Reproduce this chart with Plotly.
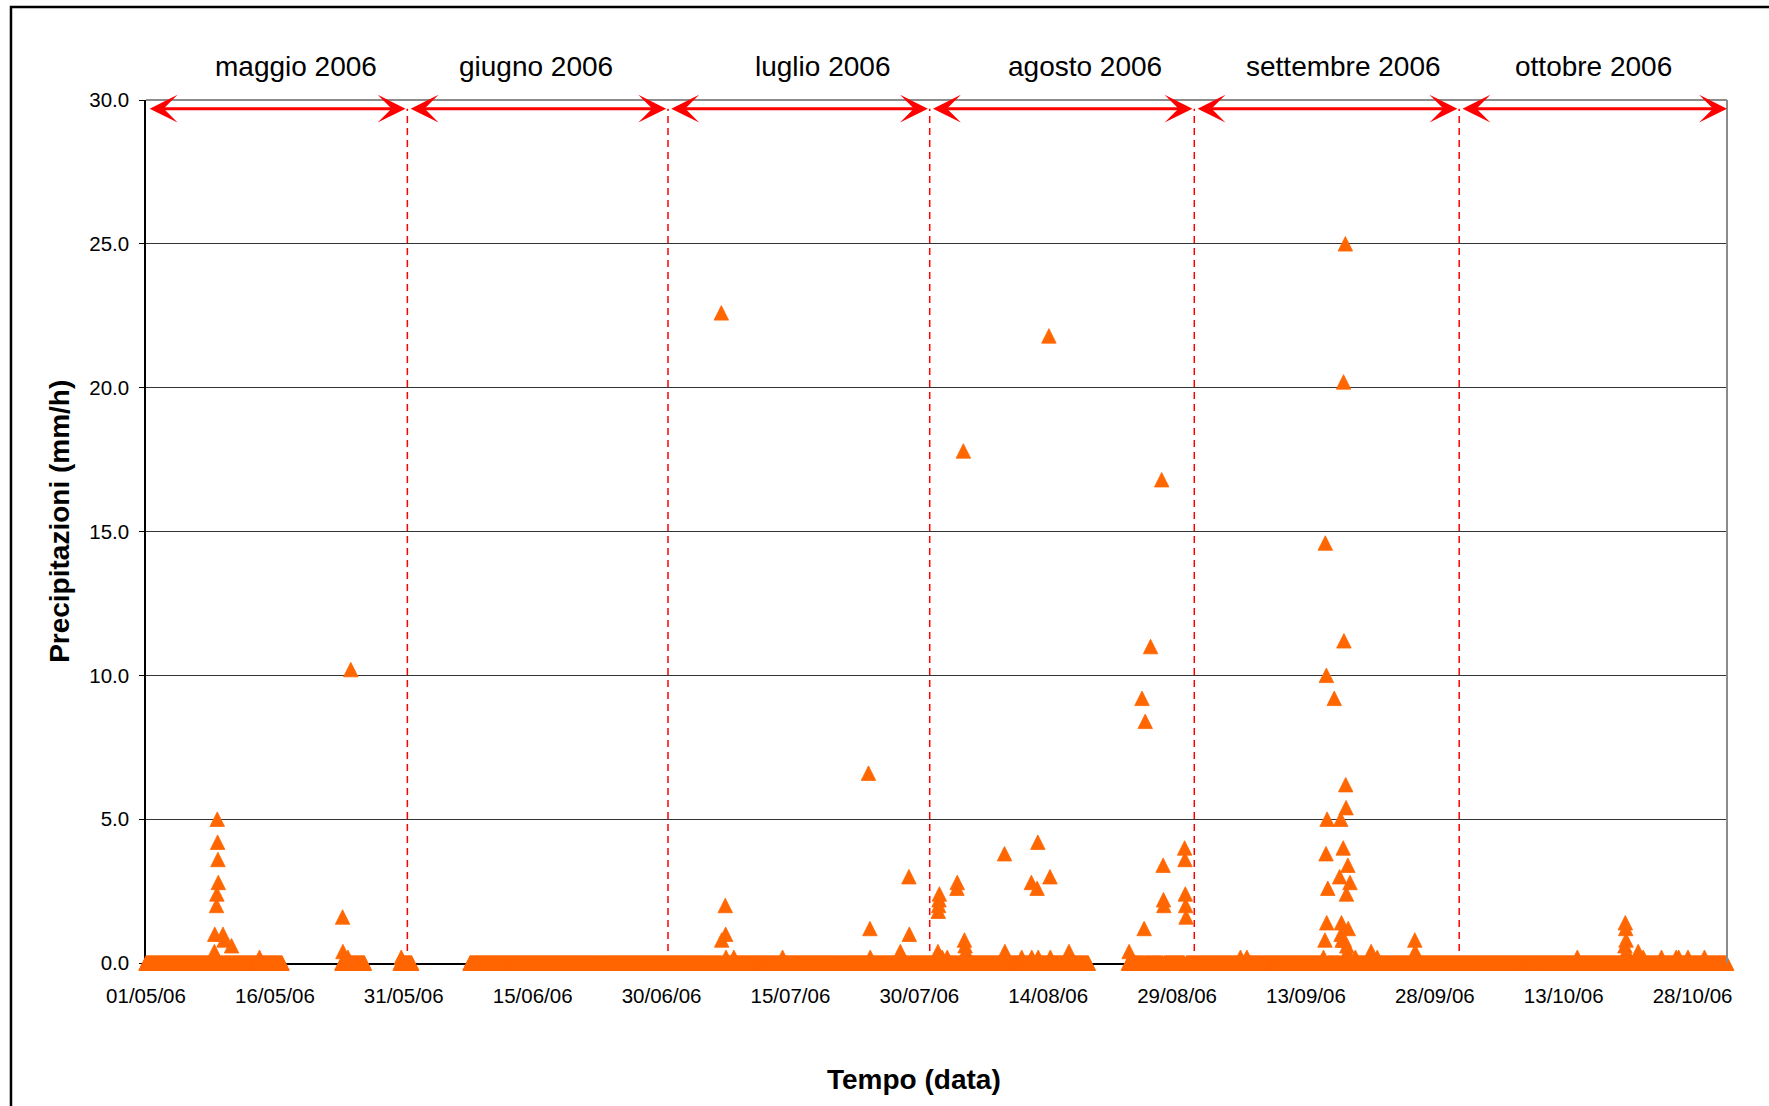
import pandas as pd
import plotly.graph_objects as go

# Hourly rain-gauge record, May-October 2006.
# Windows during which the gauge was logging (readings are 0.0 unless listed below).
period_start = ["2006-05-01 00:00", "2006-05-23 19:00", "2006-05-30 14:00",
                "2006-06-07 17:00", "2006-08-23 08:00"]
period_end = ["2006-05-16 20:00", "2006-05-26 10:00", "2006-05-31 22:00",
              "2006-08-18 16:00", "2006-10-31 23:00"]

# Non-zero hourly intensities (mm/h)
rain_time = [
    # May
    "2006-05-08 23:00", "2006-05-09 00:00", "2006-05-09 05:00", "2006-05-09 06:00",
    "2006-05-09 07:00", "2006-05-09 08:00", "2006-05-09 09:00", "2006-05-09 10:00",
    "2006-05-09 23:00", "2006-05-10 02:00", "2006-05-10 23:00", "2006-05-14 05:00",
    "2006-05-23 21:00", "2006-05-23 22:00", "2006-05-24 12:00", "2006-05-24 20:00",
    "2006-05-30 17:00",
    # July
    "2006-07-06 23:00", "2006-07-07 00:00", "2006-07-07 10:00", "2006-07-07 11:00",
    "2006-07-07 12:00", "2006-07-08 10:00", "2006-07-14 02:00", "2006-07-24 02:00",
    "2006-07-24 06:00", "2006-07-24 07:00", "2006-07-27 19:00", "2006-07-28 19:00",
    "2006-07-28 20:00",
    # August
    "2006-08-01 04:00", "2006-08-01 05:00", "2006-08-01 06:00", "2006-08-01 07:00",
    "2006-08-01 08:00", "2006-08-01 16:00", "2006-08-02 06:00", "2006-08-03 09:00",
    "2006-08-03 10:00", "2006-08-04 03:00", "2006-08-04 06:00", "2006-08-04 08:00",
    "2006-08-04 10:00", "2006-08-04 12:00", "2006-08-08 22:00", "2006-08-08 23:00",
    "2006-08-10 22:00", "2006-08-12 01:00", "2006-08-12 02:00", "2006-08-12 17:00",
    "2006-08-12 19:00", "2006-08-12 20:00", "2006-08-14 02:00", "2006-08-14 05:00",
    "2006-08-14 06:00", "2006-08-16 10:00", "2006-08-16 11:00", "2006-08-23 10:00",
    "2006-08-24 22:00", "2006-08-25 04:00", "2006-08-25 07:00", "2006-08-25 22:00",
    "2006-08-27 05:00", "2006-08-27 09:00", "2006-08-27 10:00", "2006-08-27 11:00",
    "2006-08-29 21:00", "2006-08-29 22:00", "2006-08-29 23:00", "2006-08-30 00:00",
    "2006-08-30 01:00",
    # September
    "2006-09-05 09:00", "2006-09-06 03:00", "2006-09-15 01:00", "2006-09-15 05:00",
    "2006-09-15 06:00", "2006-09-15 08:00", "2006-09-15 09:00", "2006-09-15 10:00",
    "2006-09-15 11:00", "2006-09-15 13:00", "2006-09-16 07:00", "2006-09-16 22:00",
    "2006-09-17 01:00", "2006-09-17 02:00", "2006-09-17 03:00", "2006-09-17 05:00",
    "2006-09-17 08:00", "2006-09-17 09:00", "2006-09-17 10:00", "2006-09-17 11:00",
    "2006-09-17 14:00", "2006-09-17 15:00", "2006-09-17 16:00", "2006-09-17 17:00",
    "2006-09-17 18:00", "2006-09-17 20:00", "2006-09-17 21:00", "2006-09-17 22:00",
    "2006-09-18 03:00", "2006-09-18 18:00", "2006-09-20 14:00", "2006-09-21 07:00",
    "2006-09-25 16:00", "2006-09-25 17:00",
    # October
    "2006-10-14 14:00", "2006-10-20 03:00", "2006-10-20 04:00", "2006-10-20 05:00",
    "2006-10-20 06:00", "2006-10-20 07:00", "2006-10-21 16:00", "2006-10-22 06:00",
    "2006-10-24 09:00", "2006-10-26 02:00", "2006-10-26 09:00", "2006-10-27 11:00",
    "2006-10-29 09:00",
]
rain_value = [
    # May
    0.4, 1.0, 2.0, 2.4,
    5.0, 4.2, 3.6, 2.8,
    1.0, 0.8, 0.6, 0.2,
    1.6, 0.4, 0.2, 10.2,
    0.2,
    # July
    22.6, 0.8, 2.0, 1.0,
    0.2, 0.2, 0.2, 6.6,
    1.2, 0.2, 0.4, 3.0,
    1.0,
    # August
    0.4, 1.8, 2.0, 2.2,
    2.4, 0.2, 0.2, 2.6,
    2.8, 17.8, 0.8, 0.6,
    0.4, 0.2, 3.8, 0.4,
    0.2, 2.8, 0.2, 2.6,
    4.2, 0.2, 21.8, 3.0,
    0.2, 0.4, 0.2, 0.4,
    9.2, 1.2, 8.4, 11.0,
    16.8, 3.4, 2.2, 2.0,
    4.0, 3.6, 2.4, 2.0,
    1.6,
    # September
    0.2, 0.2, 0.2, 0.8,
    14.6, 3.8, 10.0, 1.4,
    5.0, 2.6, 9.2, 3.0,
    5.0, 1.0, 1.4, 0.8,
    4.0, 20.2, 11.2, 0.8,
    25.0, 6.2, 5.4, 2.4,
    0.6, 0.4, 3.4, 1.2,
    2.8, 0.2, 0.4, 0.2,
    0.8, 0.4,
    # October
    0.2, 0.6, 1.4, 1.2,
    0.8, 0.4, 0.4, 0.2,
    0.2, 0.2, 0.2, 0.2,
    0.2,
]

month_labels = ["maggio 2006", "giugno 2006", "luglio 2006",
                "agosto 2006", "settembre 2006", "ottobre 2006"]
y_ticks = [0, 5, 10, 15, 20, 25, 30]

# ---- assemble the hourly series ----
hours = [pd.date_range(s, e, freq="h") for s, e in zip(period_start, period_end)]
zero_idx = hours[0].append(hours[1:])
events = pd.Series(rain_value, index=pd.to_datetime(rain_time))
series = pd.concat([pd.Series(0.0, index=zero_idx.difference(events.index)), events]).sort_index()

FONT = "Liberation Sans, Arial, sans-serif"
ORANGE = "#FF6600"
RED = "#FF0000"

# Upright triangle as tall as it is wide, centred on the value:
# the 'arrow-down' glyph turned 180 degrees and pushed back by half its size.
MARK = 14.5
fig = go.Figure()
fig.add_trace(go.Scatter(
    x=series.index, y=series.values, mode="markers",
    marker=dict(symbol="arrow-down", size=MARK, angle=180, standoff=MARK / 2,
                color=ORANGE, line=dict(color=ORANGE, width=0.8)),
    cliponaxis=False, showlegend=False, hoverinfo="x+y",
))

# month separators and double-headed span arrows
separators = ["2006-05-31 10:00", "2006-06-30 18:00", "2006-07-31 05:00",
              "2006-08-31 00:00", "2006-09-30 20:00"]
span_edges = [pd.Timestamp("2006-05-01 06:00")] + [pd.Timestamp(s) for s in separators] \
             + [pd.Timestamp("2006-11-01 00:00")]
gap = pd.Timedelta(hours=5)
ARROW_Y = 29.7

shapes = []
for s in separators:
    shapes.append(dict(type="line", xref="x", yref="y", x0=s, x1=s, y0=0, y1=ARROW_Y,
                       line=dict(color=RED, width=1.5, dash="7px,5px"), layer="below"))
# plot frame (grey top / right edges)
shapes.append(dict(type="line", xref="paper", yref="paper", x0=0, x1=1, y0=1, y1=1,
                   line=dict(color="#8c8c8c", width=2)))
shapes.append(dict(type="line", xref="paper", yref="paper", x0=1, x1=1, y0=0, y1=1,
                   line=dict(color="#8c8c8c", width=2)))
# outer chart border
shapes.append(dict(type="rect", xref="paper", yref="paper",
                   x0=-0.0854, x1=1.06, y0=-0.25, y1=1.1078,
                   line=dict(color="black", width=2.5), fillcolor="rgba(0,0,0,0)"))

annotations = []
for i in range(len(month_labels)):
    a = span_edges[i] + (gap if i > 0 else pd.Timedelta(0))
    b = span_edges[i + 1] - (gap if i < len(month_labels) - 1 else pd.Timedelta(0))
    annotations.append(dict(
        x=b.strftime("%Y-%m-%d %H:%M"), y=ARROW_Y, xref="x", yref="y",
        ax=a.strftime("%Y-%m-%d %H:%M"), ay=ARROW_Y, axref="x", ayref="y",
        text="", showarrow=True, arrowside="end+start",
        arrowhead=3, startarrowhead=3, arrowsize=1.55, startarrowsize=1.55,
        arrowwidth=3, arrowcolor=RED,
    ))

label_x = ["2006-05-18 10:00", "2006-06-15 08:00", "2006-07-18 17:00",
           "2006-08-18 07:00", "2006-09-17 10:00", "2006-10-16 12:00"]
for lx, txt in zip(label_x, month_labels):
    annotations.append(dict(x=lx, y=1.039, xref="x", yref="paper", text=txt,
                            showarrow=False, xanchor="center", yanchor="middle",
                            font=dict(family=FONT, size=28, color="black")))

annotations.append(dict(x=-0.0552, y=0.512, xref="paper", yref="paper",
                        text="<b>Precipitazioni (mm/h)</b>", textangle=-90,
                        showarrow=False, xanchor="center", yanchor="middle",
                        font=dict(family=FONT, size=28, color="black")))
annotations.append(dict(x=0.4857, y=-0.1352, xref="paper", yref="paper",
                        text="<b>Tempo (data)</b>", showarrow=False,
                        xanchor="center", yanchor="middle",
                        font=dict(family=FONT, size=28, color="black")))

fig.update_layout(
    width=1769, height=1106,
    margin=dict(l=146, r=42, t=100, b=143),
    paper_bgcolor="white", plot_bgcolor="white",
    font=dict(family=FONT, color="black"),
    shapes=shapes, annotations=annotations,
    xaxis=dict(
        type="date", range=["2006-05-01", "2006-11-01"],
        tick0="2006-05-01", dtick=15 * 86400000, tickformat="%d/%m/%y",
        ticks="outside", ticklen=5, tickcolor="black", tickwidth=1,
        ticklabelstandoff=9,
        showline=True, linecolor="black", linewidth=1.5,
        showgrid=False, zeroline=False, layer="below traces",
        tickfont=dict(family=FONT, size=20.5, color="black"),
    ),
    yaxis=dict(
        range=[0, 30], tickvals=y_ticks, tickformat=".1f",
        ticks="outside", ticklen=5, tickcolor="black", tickwidth=1,
        ticklabelstandoff=6,
        showline=True, linecolor="black", linewidth=1.5,
        showgrid=True, gridcolor="#333333", gridwidth=1, zeroline=False,
        layer="below traces",
        tickfont=dict(family=FONT, size=20.5, color="black"),
    ),
)

fig.write_html("out.html")
